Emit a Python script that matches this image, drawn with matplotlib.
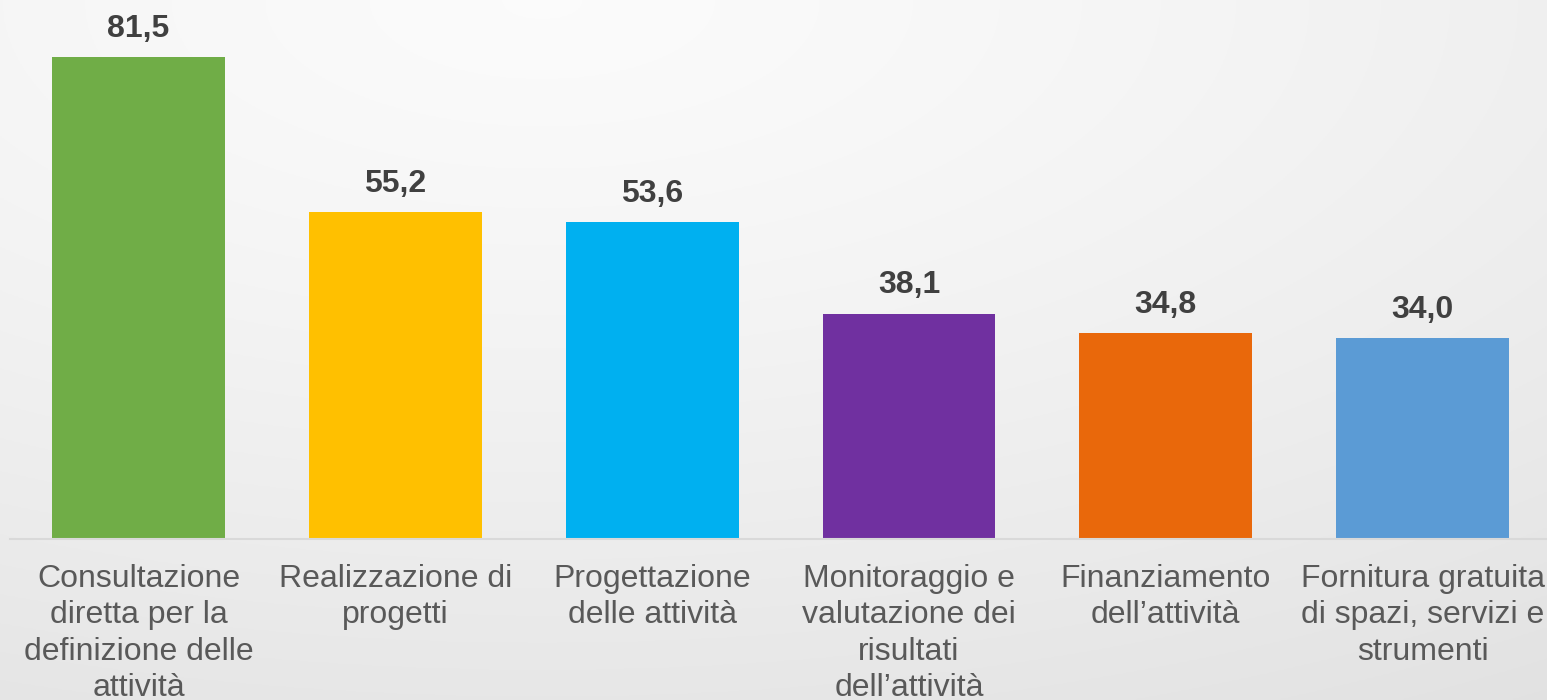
import matplotlib
matplotlib.use("Agg")
import matplotlib.pyplot as plt
import numpy as np

categories = [
    "Consultazione\ndiretta per la\ndefinizione delle\nattività",
    "Realizzazione di\nprogetti",
    "Progettazione\ndelle attività",
    "Monitoraggio e\nvalutazione dei\nrisultati\ndell\u2019attività",
    "Finanziamento\ndell\u2019attività",
    "Fornitura gratuita\ndi spazi, servizi e\nstrumenti",
]
values = [81.5, 55.2, 53.6, 38.1, 34.8, 34.0]
value_labels = ["81,5", "55,2", "53,6", "38,1", "34,8", "34,0"]
colors = ["#70AD47", "#FFC000", "#00B0F0", "#7030A0", "#E9680B", "#5B9BD5"]

plt.rcParams['font.family'] = ['Liberation Sans', 'DejaVu Sans']

fig = plt.figure(figsize=(15.47, 7.0), dpi=100)

# background radial gradient
bg = fig.add_axes([0, 0, 1, 1])
bg.set_axis_off()
h, w = 350, 774
yy, xx = np.mgrid[0:h, 0:w]
cx, cy = 0.35 * w, 0.0 * h
r = np.sqrt(((xx - cx) / w) ** 2 + ((yy - cy) / h) ** 2)
r = r / r.max()
v = 0.985 - 0.10 * r ** 1.3
img = np.dstack([v, v, v])
bg.imshow(img, aspect='auto', extent=[0, 1, 0, 1], origin='upper')
bg.set_xlim(0, 1)
bg.set_ylim(0, 1)

left_px, right_px = 10.1, 1551.0
ax = fig.add_axes([left_px / 1547, 1 - 539 / 700, (right_px - left_px) / 1547, 539 / 700])
ax.patch.set_alpha(0)
x = np.arange(len(values))
bars = ax.bar(x, values, width=0.673, color=colors, zorder=2)
ax.set_xlim(-0.5, len(values) - 0.5)
ax.set_ylim(0, 91.1)
for s in ["top", "right", "left"]:
    ax.spines[s].set_visible(False)
ax.spines["bottom"].set_color("#D9D9D9")
ax.spines["bottom"].set_linewidth(1.5)
ax.set_yticks([])
ax.set_xticks(x)
ax.set_xticklabels(categories, fontsize=23, color="#595959", linespacing=1.28)
ax.tick_params(axis='x', length=0, pad=18)

for xi, val, lab in zip(x, values, value_labels):
    ax.annotate(lab, (xi, val), xytext=(0, 9.5), textcoords="offset points",
                ha="center", va="bottom", fontsize=23, fontweight="bold",
                color="#404040")

fig.savefig("out.png", dpi=100)
